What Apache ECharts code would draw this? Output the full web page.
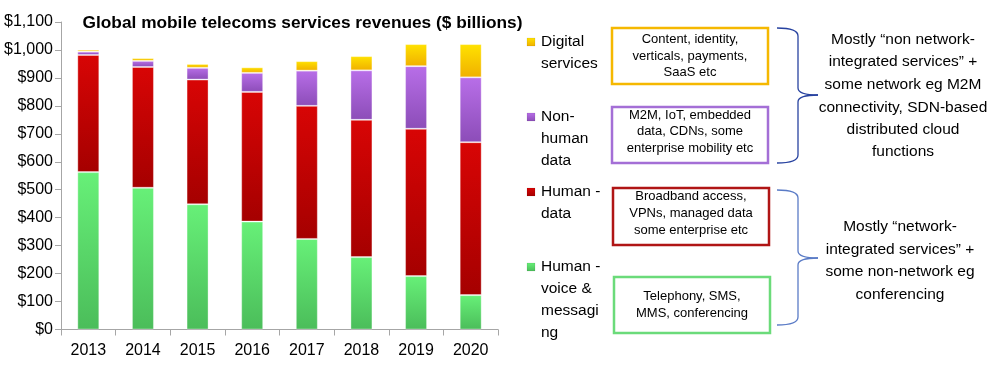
<!DOCTYPE html>
<html><head><meta charset="utf-8">
<script src="https://cdn.jsdelivr.net/npm/echarts@6/dist/echarts.min.js"></script>
<style>html,body{margin:0;padding:0;background:#fff}#c{width:1004px;height:365px}</style>
</head><body><div id="c"></div>
<script>
const years = ['2013','2014','2015','2016','2017','2018','2019','2020'];
const voiceMessaging = [563, 507, 448, 386, 324, 259, 191, 123];
const humanData = [419, 432, 446, 464, 476, 491, 527, 547];
const nonHumanData = [12, 22, 42, 68, 126, 177, 224, 232];
const digitalServices = [7, 10, 14, 20, 34, 51, 79, 119];
const seriesNames = ['Human - voice & messaging', 'Human - data', 'Non-human data', 'Digital services'];
const legendLabels = ['Human -\nvoice &\nmessagi\nng', 'Human -\ndata', 'Non-\nhuman\ndata', 'Digital\nservices'];
const yTicks = {min: 0, max: 1100, interval: 100};
const boxTexts = [
  'Content, identity,\nverticals, payments,\nSaaS etc',
  'M2M, IoT, embedded\ndata, CDNs, some\nenterprise mobility etc',
  'Broadband access,\nVPNs, managed data\nsome enterprise etc',
  'Telephony, SMS,\nMMS, conferencing'
];
const noteTexts = [
  'Mostly \u201cnon network-\nintegrated services\u201d +\nsome network eg M2M\nconnectivity, SDN-based\ndistributed cloud\nfunctions',
  'Mostly \u201cnetwork-\nintegrated services\u201d +\nsome non-network eg\nconferencing'
];
const title = 'Global mobile telecoms services revenues ($ billions)';

function grad(top, bottom) {
  return new echarts.graphic.LinearGradient(0, 0, 0, 1, [{offset: 0, color: top}, {offset: 1, color: bottom}]);
}
const fillStops = [['#67F078', '#4BBD5A'], ['#D80505', '#A50000'], ['#B86EE8', '#8C4DB8'], ['#FFE200', '#F0B000']];
const fills = fillStops.map(s => grad(s[0], s[1]));
const boxColors = ['#F5B800', '#A46FD6', '#B01515', '#6BDB7A'];
const dataSets = [voiceMessaging, humanData, nonHumanData, digitalServices];

const font = '"Liberation Sans", Arial, sans-serif';
const chart = echarts.init(document.getElementById('c'));

const graphics = [];
// legend (icon aligned with first text line)
const legendTops = [267, 192, 117, 42];
const LH = 22;
seriesNames.forEach((n, i) => {
  graphics.push({type: 'rect', shape: {x: 527, y: legendTops[i] - 4, width: 8, height: 8},
    style: {fill: grad(fillStops[i][0], fillStops[i][1]), stroke: 'rgba(0,0,0,0.15)', lineWidth: 0.5}, z: 11});
  legendLabels[i].split('\n').forEach((t, k) => {
    graphics.push({type: 'text', x: 541, y: legendTops[i] + k * LH,
      style: {text: t, font: '15.5px ' + font, fill: '#000', textAlign: 'left', textVerticalAlign: 'middle'}, z: 11});
  });
});

const boxes = [[612, 28, 156, 56], [612, 107, 156, 56], [613, 188, 156, 57], [614, 277, 156, 56]];
const boxLineY = [[39.5, 56, 72.5], [115, 131.5, 148], [196.5, 213.5, 230], [296, 313]];
boxes.forEach((b, i) => {
  graphics.push({type: 'rect', shape: {x: b[0], y: b[1], width: b[2], height: b[3]},
    style: {fill: '#fff', stroke: boxColors[i], lineWidth: 2.5}, z: 10});
  boxTexts[i].split('\n').forEach((t, k) => {
    graphics.push({type: 'text', x: b[0] + b[2] / 2, y: boxLineY[i][k],
      style: {text: t, font: '13px ' + font, fill: '#000', textAlign: 'center', textVerticalAlign: 'middle'}, z: 11});
  });
});
function brace(x0, y0, y1, tipY, xm, xt, color) {
  const r = 8;
  const parts = [
    {type: 'bezierCurve', shape: {x1: x0, y1: y0, x2: xm, y2: y0 + r, cpx1: xm, cpy1: y0}},
    {type: 'line', shape: {x1: xm, y1: y0 + r, x2: xm, y2: tipY - 7}},
    {type: 'bezierCurve', shape: {x1: xm, y1: tipY - 7, x2: xt, y2: tipY, cpx1: xm, cpy1: tipY}},
    {type: 'bezierCurve', shape: {x1: xt, y1: tipY, x2: xm, y2: tipY + 7, cpx1: xm, cpy1: tipY}},
    {type: 'line', shape: {x1: xm, y1: tipY + 7, x2: xm, y2: y1 - r}},
    {type: 'bezierCurve', shape: {x1: xm, y1: y1 - r, x2: x0, y2: y1, cpx1: xm, cpy1: y1}}
  ];
  parts.forEach(p => { p.style = {stroke: color, lineWidth: 1.3, fill: null}; p.z = 10; graphics.push(p); });
}
brace(777, 28, 163, 95, 798, 818, '#2742A0');
brace(777, 190, 325, 258, 798, 818, '#5A7BC6');
const noteY = [[40, 62, 85, 108, 130, 152], [227, 250, 272, 295]];
const noteX = [903, 900];
noteTexts.forEach((t, i) => {
  t.split('\n').forEach((line, k) => {
    graphics.push({type: 'text', x: noteX[i], y: noteY[i][k],
      style: {text: line, font: '15.5px ' + font, fill: '#000', textAlign: 'center', textVerticalAlign: 'middle'}, z: 11});
  });
});
graphics.push({type: 'text', x: 302.5, y: 23, style: {text: title, font: 'bold 17.3px ' + font, fill: '#000',
  textAlign: 'center', textVerticalAlign: 'middle'}, z: 11});

chart.setOption({
  animation: false,
  grid: {left: 61, right: 506, top: 22, bottom: 35.5},
  xAxis: {type: 'category', data: years,
    axisLine: {lineStyle: {color: '#A6A6A6'}},
    axisTick: {show: true, alignWithLabel: false, length: 6, lineStyle: {color: '#A6A6A6'}},
    axisLabel: {fontFamily: font, fontSize: 16, color: '#000', margin: 13}},
  yAxis: {type: 'value', min: yTicks.min, max: yTicks.max, interval: yTicks.interval,
    splitLine: {show: false},
    axisLine: {show: true, lineStyle: {color: '#A6A6A6'}},
    axisTick: {show: true, length: 6, lineStyle: {color: '#A6A6A6'}},
    axisLabel: {fontFamily: font, fontSize: 16, color: '#000', margin: 8,
      formatter: v => '$' + v.toLocaleString('en-US')}},
  series: seriesNames.map((n, i) => ({
    name: n, type: 'bar', stack: 'total', barWidth: 22, data: dataSets[i],
    itemStyle: {color: fills[i], borderColor: 'rgba(255,255,255,0.35)', borderWidth: 1}
  })),
  graphic: graphics
});
</script></body></html>
